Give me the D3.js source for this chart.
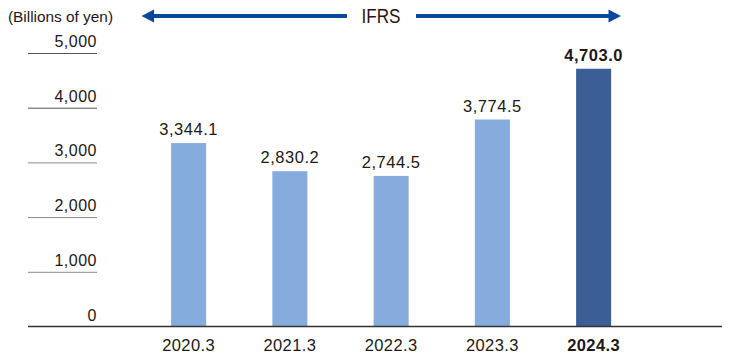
<!DOCTYPE html>
<html>
<head>
<meta charset="utf-8">
<script src="https://cdn.jsdelivr.net/npm/d3@7"></script>
<style>
  html, body { margin: 0; padding: 0; background: #fff; }
  svg { display: block; font-family: "Liberation Sans", Arial, sans-serif; }
</style>
</head>
<body>
<svg id="chart" width="730" height="360"></svg>
<script>
const categories = ["2020.3", "2021.3", "2022.3", "2023.3", "2024.3"];
const values = [3344.1, 2830.2, 2744.5, 3774.5, 4703.0];
const valueLabels = ["3,344.1", "2,830.2", "2,744.5", "3,774.5", "4,703.0"];
const highlight = [false, false, false, false, true];
const yTicks = [0, 1000, 2000, 3000, 4000, 5000];
const unitLabel = "(Billions of yen)";
const standardLabel = "IFRS";

const svg = d3.select("#chart");
const textColor = "#231815";
const lightBlue = "#85acdc";
const darkBlue = "#3c5e97";
const arrowBlue = "#0b479b";

const x = d3.scaleBand().domain(categories).range([138, 644.25])
  .paddingInner(0.654).paddingOuter(0.327);
const y = d3.scaleLinear().domain([0, 5000]).range([326, 52.5]);

// Unit label
svg.append("text").attr("x", 8).attr("y", 21.5)
  .attr("font-size", 14.5).attr("fill", textColor)
  .attr("textLength", 105).attr("lengthAdjust", "spacingAndGlyphs")
  .text(unitLabel);

// IFRS arrow
const ay = 16;
svg.append("line").attr("x1", 150).attr("x2", 347).attr("y1", ay).attr("y2", ay)
  .attr("stroke", arrowBlue).attr("stroke-width", 4);
svg.append("line").attr("x1", 416).attr("x2", 612).attr("y1", ay).attr("y2", ay)
  .attr("stroke", arrowBlue).attr("stroke-width", 4);
svg.append("path").attr("d", `M141.5,${ay} L154,${ay-6.5} L154,${ay+6.5} Z`).attr("fill", arrowBlue);
svg.append("path").attr("d", `M621,${ay} L608.5,${ay-6.5} L608.5,${ay+6.5} Z`).attr("fill", arrowBlue);
svg.append("text").attr("x", 381).attr("y", 23).attr("text-anchor", "middle")
  .attr("font-size", 20).attr("fill", textColor)
  .attr("textLength", 39).attr("lengthAdjust", "spacingAndGlyphs")
  .text(standardLabel);

// Y axis ticks (short lines with labels)
const yAxis = d3.axisLeft(y).tickValues(yTicks).tickSize(0).tickFormat(d3.format(","));
const yg = svg.append("g").attr("transform", "translate(97,0)").call(yAxis);
yg.select(".domain").remove();
yg.selectAll(".tick text")
  .attr("x", 0).attr("dy", null).attr("y", -6)
  .attr("text-anchor", "end")
  .attr("font-size", 16).attr("font-family", "'Liberation Sans', Arial, sans-serif")
  .attr("fill", textColor).attr("letter-spacing", 0.5);
yg.selectAll(".tick").filter(d => d !== 0).append("line")
  .attr("x1", -69).attr("x2", 0).attr("y1", 0.5).attr("y2", 0.5)
  .attr("stroke", d => d >= 4000 ? "#555" : "#8a8a8a").attr("stroke-width", 1);

// Bars
svg.selectAll("rect.bar").data(values).join("rect")
  .attr("class", "bar")
  .attr("x", (d, i) => x(categories[i]))
  .attr("width", x.bandwidth())
  .attr("y", d => y(d))
  .attr("height", d => y(0) - y(d))
  .attr("fill", (d, i) => highlight[i] ? darkBlue : lightBlue);

// Value labels
svg.selectAll("text.val").data(values).join("text")
  .attr("class", "val")
  .attr("x", (d, i) => x(categories[i]) + x.bandwidth() / 2)
  .attr("y", d => y(d) - 8)
  .attr("text-anchor", "middle")
  .attr("font-size", 16.5)
  .attr("letter-spacing", 0.5)
  .attr("font-weight", (d, i) => highlight[i] ? "bold" : "normal")
  .attr("fill", textColor)
  .text((d, i) => valueLabels[i]);

// Baseline / x axis
const xAxis = d3.axisBottom(x).tickSize(0).tickPadding(13);
const xg = svg.append("g").attr("transform", `translate(0,${y(0)})`).call(xAxis);
xg.select(".domain").remove();
svg.append("line").attr("x1", 28).attr("x2", 722).attr("y1", y(0) + 0.5).attr("y2", y(0) + 0.5)
  .attr("stroke", "#333").attr("stroke-width", 1.5);
xg.selectAll(".tick text")
  .attr("font-size", 16.5).attr("font-family", "'Liberation Sans', Arial, sans-serif")
  .attr("letter-spacing", 0.4)
  .attr("fill", textColor)
  .attr("font-weight", (d, i) => highlight[i] ? "bold" : "normal");
</script>
</body>
</html>
